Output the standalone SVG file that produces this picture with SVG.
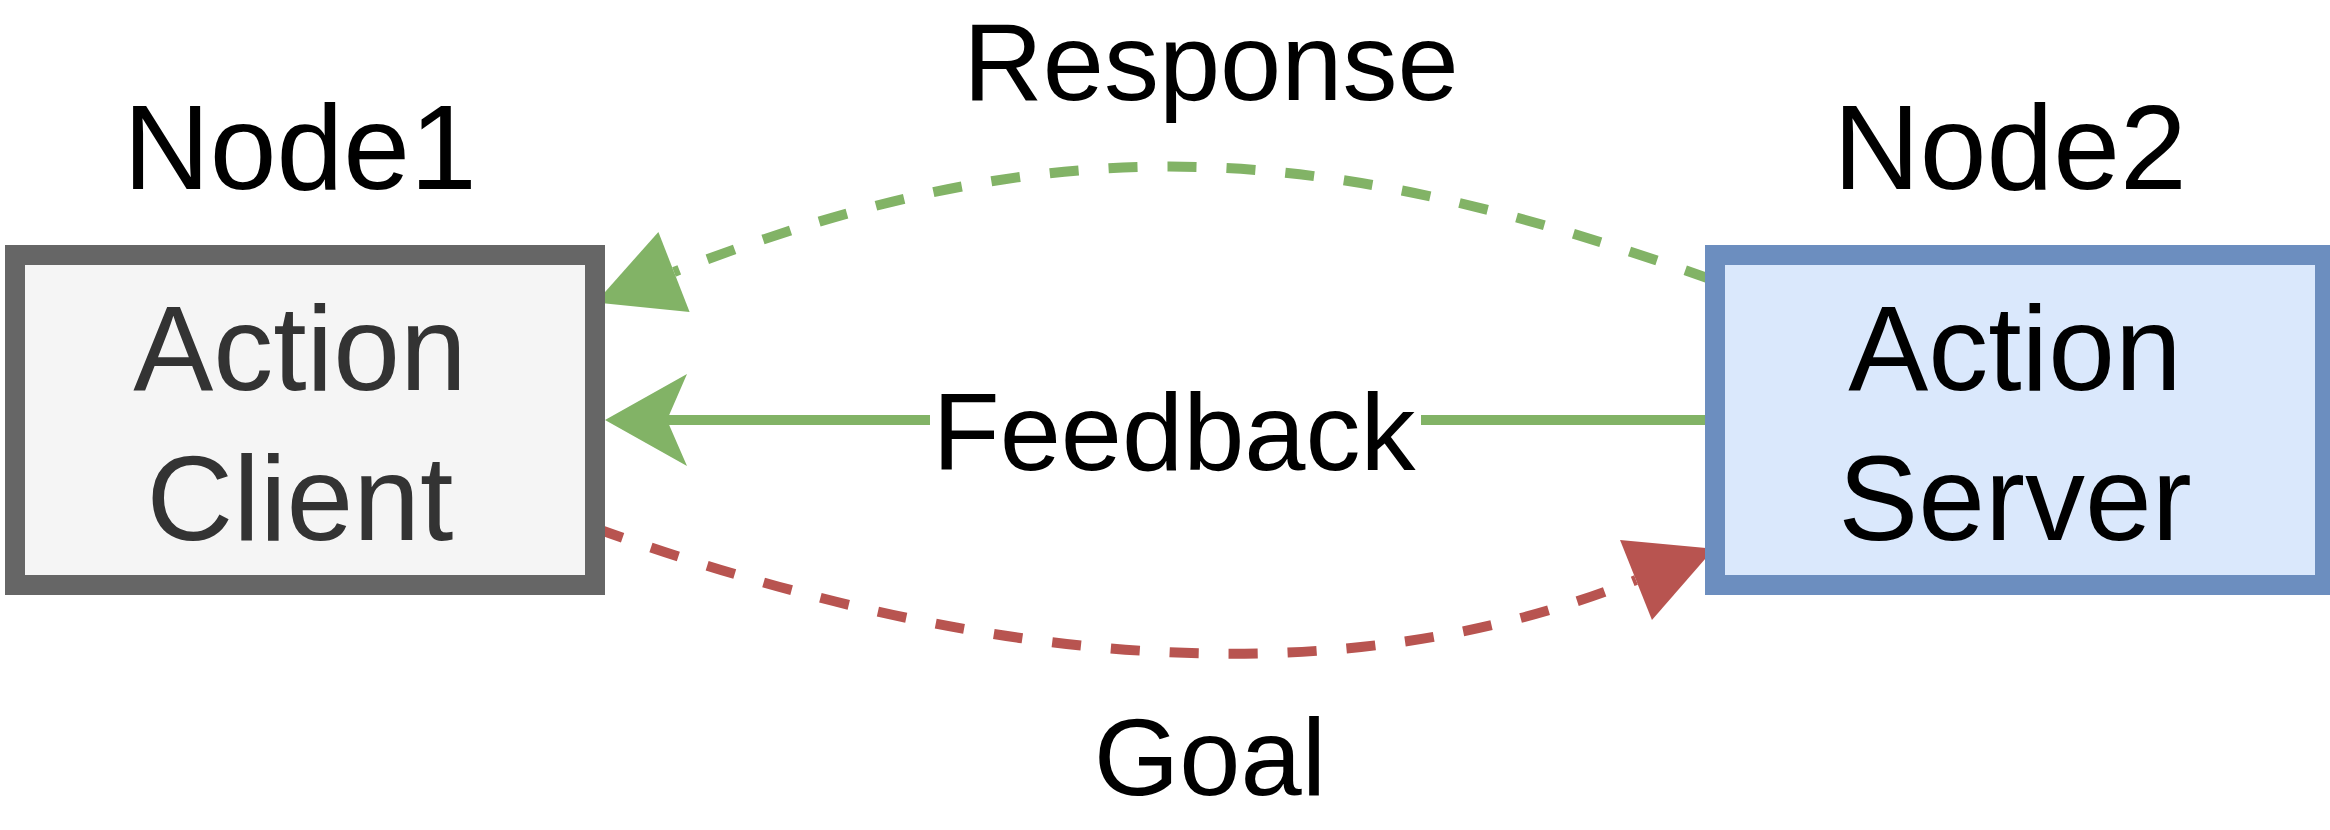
<svg xmlns="http://www.w3.org/2000/svg" width="2330" height="830" viewBox="0 0 2330 830">
  <style>
    .lbl { font-family: "Liberation Sans", Arial, sans-serif; text-anchor: middle; }
    .big { font-size: 120px; }
    .mid { font-size: 110px; fill: #000000; }
    .edge { fill: none; stroke-width: 10; }
    .green { stroke: #82b366; }
    .red { stroke: #b85450; }
    .dash { stroke-dasharray: 29 30; }
  </style>
  <defs>
    <marker id="classicGreen" markerUnits="userSpaceOnUse" markerWidth="1" markerHeight="1" refX="0" refY="0" orient="auto" overflow="visible">
      <path d="M62,0 L-20,-46 L0,0 L-20,46 Z" fill="#82b366" stroke="none"/>
    </marker>
    <marker id="blockGreen" markerUnits="userSpaceOnUse" markerWidth="1" markerHeight="1" refX="0" refY="0" orient="auto" overflow="visible">
      <path d="M84,0 L0,-43 L0,43 Z" fill="#82b366" stroke="none"/>
    </marker>
    <marker id="blockRed" markerUnits="userSpaceOnUse" markerWidth="1" markerHeight="1" refX="0" refY="0" orient="auto" overflow="visible">
      <path d="M84,0 L0,-43 L0,43 Z" fill="#b85450" stroke="none"/>
    </marker>
  </defs>
  <rect x="0" y="0" width="2330" height="830" fill="#ffffff"/>

  <g id="connectors">
    <g id="edge-response">
      <path class="edge green dash" d="M1713,280 C1323,141 1064,120 674,272" marker-end="url(#blockGreen)"/>
      <text class="lbl mid" x="1211" y="100">Response</text>
    </g>
    <g id="edge-feedback">
      <path class="edge green" d="M1705,420 L667,420" marker-end="url(#classicGreen)"/>
      <rect x="930" y="405" width="491" height="30" fill="#ffffff"/>
      <text class="lbl mid" x="1174" y="470">Feedback</text>
    </g>
    <g id="edge-goal">
      <path class="edge red dash" d="M595,528 Q1211,750 1636,580" marker-end="url(#blockRed)"/>
      <text class="lbl mid" x="1210" y="795">Goal</text>
    </g>
  </g>

  <g id="node1">
    <text class="lbl big" x="300" y="189" fill="#000000">Node1</text>
    <rect x="15" y="255" width="580" height="330" fill="#f5f5f5" stroke="#666666" stroke-width="20"/>
    <text class="lbl big" x="300" y="390" fill="#333333">Action</text>
    <text class="lbl big" x="300" y="540" fill="#333333">Client</text>
  </g>

  <g id="node2">
    <text class="lbl big" x="2010" y="189" fill="#000000">Node2</text>
    <rect x="1715" y="255" width="610" height="330" fill="#dae8fc" stroke="#6c8ebf" stroke-width="20"/>
    <text class="lbl big" x="2015" y="390" fill="#000000">Action</text>
    <text class="lbl big" x="2015" y="540" fill="#000000">Server</text>
  </g>
</svg>
